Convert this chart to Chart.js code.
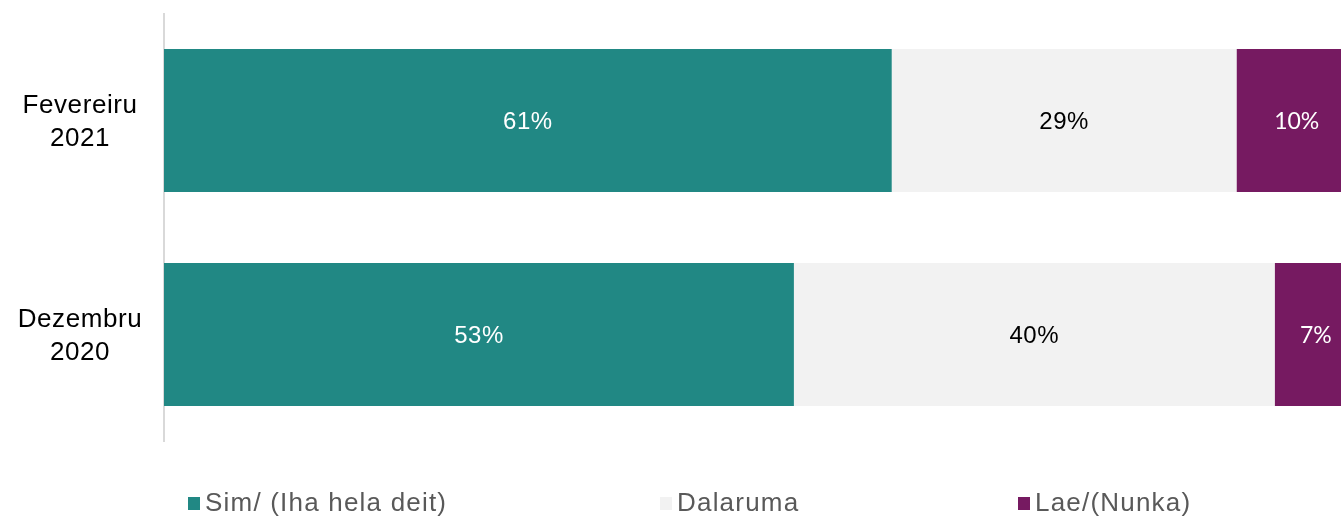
<!DOCTYPE html>
<html>
<head>
<meta charset="utf-8">
<script src="https://cdn.jsdelivr.net/npm/chart.js@4.4.1/dist/chart.umd.min.js"></script>
<style>
  html, body { margin: 0; padding: 0; background: #ffffff; overflow: hidden; }
  #wrap { width: 1341px; height: 516px; position: relative; }
</style>
</head>
<body>
<div id="wrap"><canvas id="c" width="1341" height="516"></canvas></div>
<script>
const categories = [["Fevereiru", "2021"], ["Dezembru", "2020"]];
const seriesNames = ["Sim/ (Iha hela deit)", "Dalaruma", "Lae/(Nunka)"];
const simValues = [61.0, 52.8];
const dalarumaValues = [28.9, 40.3];
const laeValues = [10.1, 6.9];
const seriesColors = ["#218884", "#f2f2f2", "#761a61"];
const labelColors = ["#ffffff", "#000000", "#ffffff"];
const labelFonts = [
  '24px "Liberation Sans", Arial, sans-serif',
  '24px "Liberation Sans", Arial, sans-serif',
  '23px Lato, "Liberation Sans", sans-serif'
];
const legendX = [188, 660, 1018];

const spacingPlugin = {
  id: 'spacing',
  beforeDraw(chart) { chart.ctx.letterSpacing = '0.6px'; }
};

const dataLabelPlugin = {
  id: 'dataLabels',
  afterDatasetsDraw(chart) {
    const ctx = chart.ctx;
    ctx.save();
    ctx.textAlign = 'center';
    ctx.textBaseline = 'middle';
    chart.data.datasets.forEach((ds, di) => {
      const meta = chart.getDatasetMeta(di);
      ctx.font = labelFonts[di];
      ctx.letterSpacing = di === 2 ? '0px' : '0.5px';
      meta.data.forEach((el, i) => {
        const p = el.getProps(['x', 'y', 'base'], true);
        ctx.fillStyle = labelColors[di];
        ctx.fillText(Math.round(ds.data[i]) + '%', (p.x + p.base) / 2, p.y + 1.5);
      });
    });
    ctx.restore();
  }
};

const legendPlugin = {
  id: 'customLegend',
  afterDraw(chart) {
    const ctx = chart.ctx;
    ctx.save();
    ctx.font = '26px "Liberation Sans", Arial, sans-serif';
    ctx.letterSpacing = '1.2px';
    ctx.textBaseline = 'middle';
    ctx.textAlign = 'left';
    const y = 503;
    chart.data.datasets.forEach((ds, di) => {
      const x = legendX[di];
      ctx.fillStyle = ds.backgroundColor;
      ctx.fillRect(x, y - 6, 12, 13);
      ctx.fillStyle = '#595959';
      ctx.fillText(ds.label, x + 17, y + 1);
    });
    ctx.restore();
  }
};

new Chart(document.getElementById('c'), {
  type: 'bar',
  data: {
    labels: categories,
    datasets: [
      { label: seriesNames[0], data: simValues, backgroundColor: seriesColors[0] },
      { label: seriesNames[1], data: dalarumaValues, backgroundColor: seriesColors[1] },
      { label: seriesNames[2], data: laeValues, backgroundColor: seriesColors[2] }
    ]
  },
  options: {
    indexAxis: 'y',
    responsive: false,
    animation: false,
    layout: { padding: { top: 13.5, bottom: 74.5, left: 0, right: 0 } },
    datasets: { bar: { categoryPercentage: 1, barPercentage: 0.668, borderWidth: 0 } },
    plugins: { legend: { display: false }, tooltip: { enabled: false } },
    scales: {
      x: { stacked: true, display: false, min: 0, max: 98.66 },
      y: {
        stacked: true,
        afterFit(scale) {
          scale.width = 164;
          scale.paddingTop = 0;
          scale.paddingBottom = 0;
        },
        grid: { display: false, drawTicks: false },
        border: { display: true, color: '#d9d9d9', width: 2 },
        ticks: {
          color: '#000000',
          padding: 24,
          labelOffset: 2,
          crossAlign: 'center',
          font: { family: '"Liberation Sans", Arial, sans-serif', size: 26, lineHeight: 1.27 }
        }
      }
    }
  },
  plugins: [spacingPlugin, dataLabelPlugin, legendPlugin]
});
</script>
</body>
</html>
